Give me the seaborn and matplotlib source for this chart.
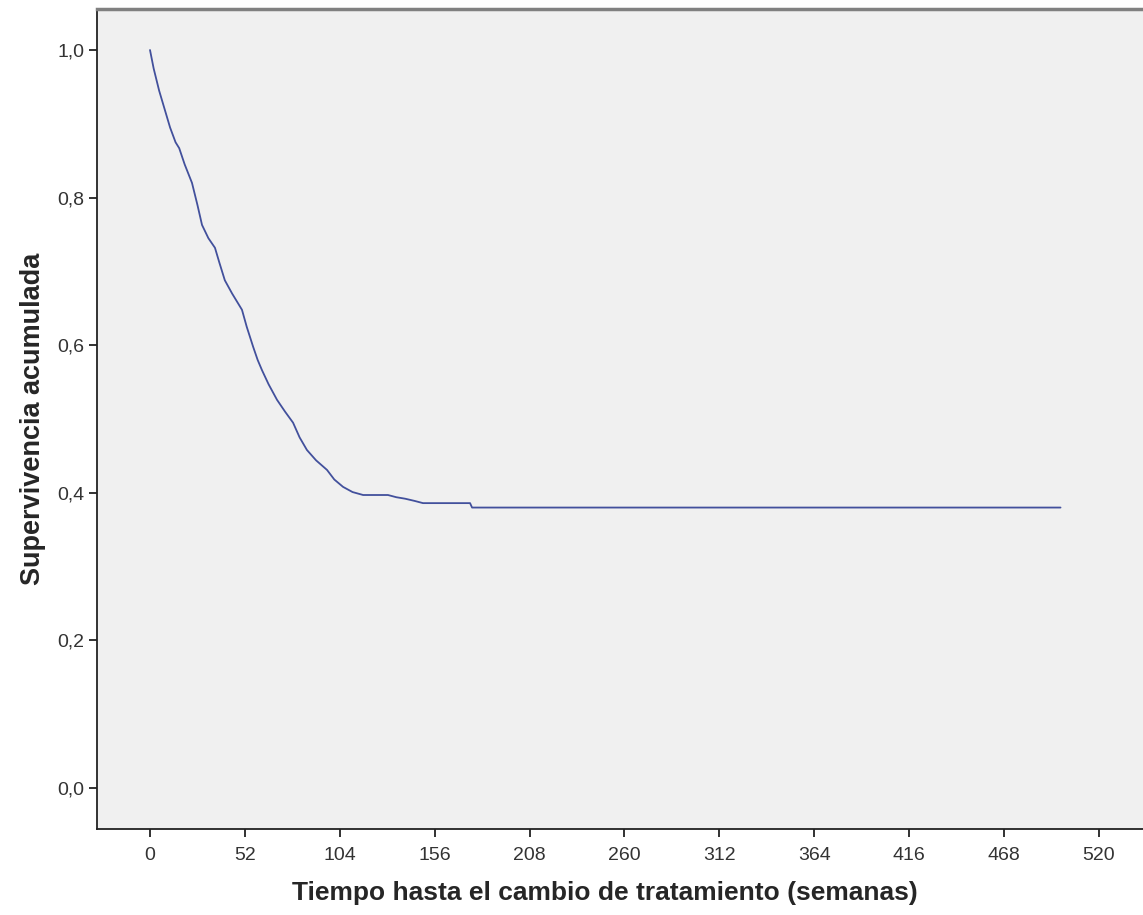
import numpy as np
import matplotlib
matplotlib.use("Agg")
import matplotlib.pyplot as plt
import seaborn as sns
import pandas as pd

# Kaplan-Meier curve (weeks, cumulative survival)
weeks = [0, 2, 5, 8, 11, 14, 16, 19, 23, 26, 28.5, 32, 35.6, 38, 41, 45,
         50.4, 53, 56.5, 59, 61.4, 65, 69.6, 74, 78.4, 82, 86, 91, 97,
         101, 105.8, 111, 116.8, 130.4, 135, 139.8, 145, 149.6, 175.4,
         176.5, 499]
survival = [1.0, 0.975, 0.945, 0.92, 0.895, 0.875, 0.867, 0.845, 0.82,
            0.79, 0.763, 0.745, 0.732, 0.712, 0.688, 0.67, 0.648, 0.625,
            0.598, 0.58, 0.566, 0.547, 0.526, 0.51, 0.495, 0.475, 0.458,
            0.444, 0.431, 0.418, 0.408, 0.401, 0.397, 0.397, 0.394, 0.392,
            0.389, 0.386, 0.386, 0.380, 0.380]

x_ticks = [0, 52, 104, 156, 208, 260, 312, 364, 416, 468, 520]
y_ticks = [0.0, 0.2, 0.4, 0.6, 0.8, 1.0]
y_tick_labels = ["0,0", "0,2", "0,4", "0,6", "0,8", "1,0"]

df = pd.DataFrame({"weeks": weeks, "survival": survival})

sns.set_style("white")
plt.rcParams['font.family'] = ['Liberation Sans', 'DejaVu Sans']

fig = plt.figure(figsize=(11.43, 9.15), dpi=100)
ax = fig.add_axes([97 / 1143, 1 - 829 / 915, 1 - 97 / 1143, (829 - 9) / 915])
ax.set_facecolor("#F0F0F0")

sns.lineplot(data=df, x="weeks", y="survival", ax=ax, color="#42509C",
             linewidth=1.3, sort=False, estimator=None)

ax.set_xlim(-29.05, 544.2)
ax.set_ylim(-0.0556, 1.0556)
ax.set_xticks(x_ticks)
ax.set_xticklabels([str(t) for t in x_ticks])
ax.set_yticks(y_ticks)
ax.set_yticklabels(y_tick_labels)
ax.tick_params(axis="both", direction="out", length=6, width=1.3,
               color="#222222", labelsize=14, labelcolor="#333333",
               bottom=True, left=True, pad=3)
ax.tick_params(axis="x", pad=7)

ax.set_xlabel("Tiempo hasta el cambio de tratamiento (semanas)",
              fontsize=19, fontweight="bold", labelpad=12)
ax.xaxis.set_label_coords(0.486, -0.063)
ax.set_ylabel("Supervivencia acumulada", fontsize=19.5, fontweight="bold",
              labelpad=8)

for side in ["left", "bottom"]:
    ax.spines[side].set_color("#222222")
    ax.spines[side].set_linewidth(1.3)
ax.spines["top"].set_color("#808080")
ax.spines["top"].set_linewidth(2.5)
ax.spines["right"].set_visible(False)

fig.savefig("out.png", dpi=100)
